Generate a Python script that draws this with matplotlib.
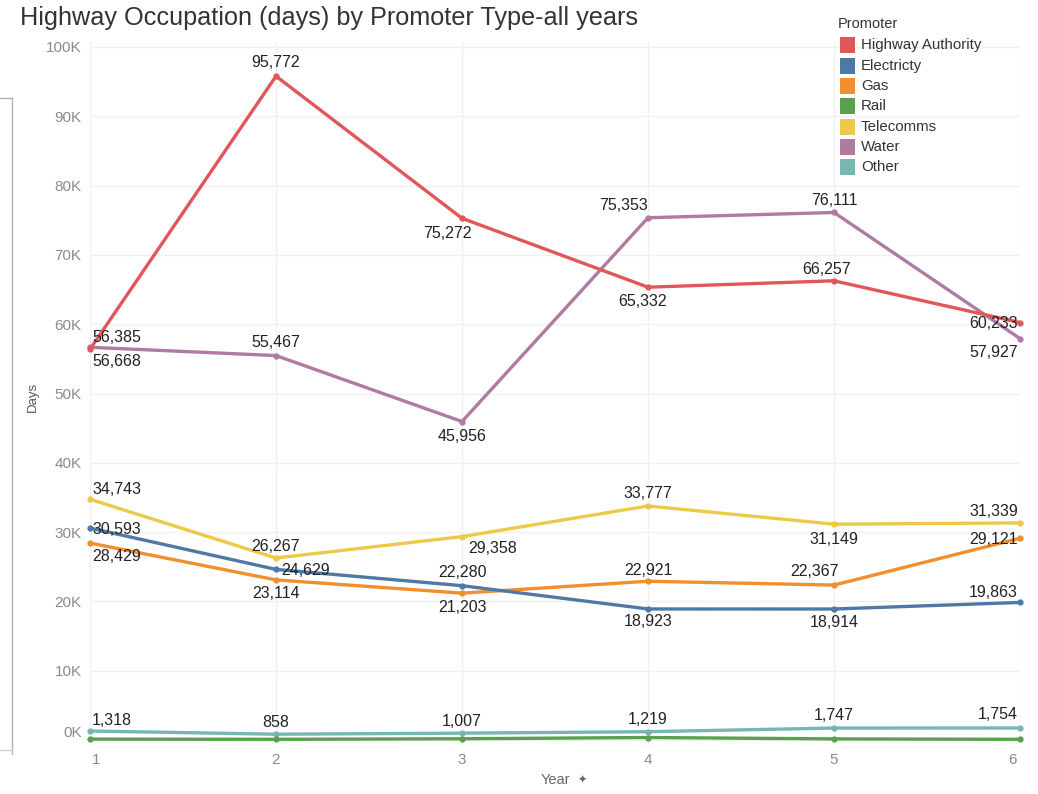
import matplotlib
matplotlib.use("Agg")
import matplotlib.pyplot as plt
from matplotlib.lines import Line2D
from matplotlib.patches import Rectangle
from matplotlib.transforms import ScaledTranslation

plt.rcParams['font.family'] = ['Liberation Sans', 'DejaVu Sans']

years = [1, 2, 3, 4, 5, 6]
promoters = ["Highway Authority", "Electricty", "Gas", "Rail", "Telecomms", "Water", "Other"]

highway_authority = [56385, 95772, 75272, 65332, 66257, 60233]
electricity = [30593, 24629, 22280, 18923, 18914, 19863]
gas = [28429, 23114, 21203, 22921, 22367, 29121]
rail = [150, 120, 200, 380, 180, 120]
telecomms = [34743, 26267, 29358, 33777, 31149, 31339]
water = [56668, 55467, 45956, 75353, 76111, 57927]
other = [1318, 858, 1007, 1219, 1747, 1754]

colors = {
    "Highway Authority": "#E15759",
    "Electricty": "#4E79A7",
    "Gas": "#F28E2B",
    "Rail": "#59A14F",
    "Telecomms": "#EDC948",
    "Water": "#B07AA1",
    "Other": "#76B7B2",
}

series = {
    "Highway Authority": highway_authority,
    "Electricty": electricity,
    "Gas": gas,
    "Rail": rail,
    "Telecomms": telecomms,
    "Water": water,
    "Other": other,
}

# label placement per point: (dx px, dy px, horizontal alignment)
label_pos = {
    "Highway Authority": [(2, 12, "left"), (0, 14, "center"), (-15, -15, "center"),
                          (-5, -14, "center"), (-7, 11, "center"), (-2, -1, "right")],
    "Water": [(2, -14, "left"), (0, 13, "center"), (0, -15, "center"),
              (-25, 12, "center"), (0, 12, "center"), (-2, -14, "right")],
    "Telecomms": [(2, 10, "left"), (0, 12, "center"), (31, -12, "center"),
                  (0, 12, "center"), (0, -15, "center"), (-2, 11, "right")],
    "Electricty": [(2, -1, "left"), (5, -1, "left"), (0, 13, "center"),
                   (0, -13, "center"), (0, -13, "center"), (-2, 10, "right")],
    "Gas": [(2, -13, "left"), (0, -14, "center"), (0, -14, "center"),
            (0, 11, "center"), (-20, 14, "center"), (-2, -1, "right")],
    "Other": [(2, 11, "left"), (0, 12, "center"), (0, 12, "center"),
              (0, 12, "center"), (0, 13, "center"), (-2, 13, "right")],
}

W, H = 1038, 794
fig = plt.figure(figsize=(W / 100, H / 100), dpi=100)
fig.patch.set_facecolor("white")

# plot area in pixels
left_px, right_px = 90, 1020
top_px, bottom_px = 42, 745
ax = fig.add_axes([left_px / W, 1 - bottom_px / H,
                   (right_px - left_px) / W, (bottom_px - top_px) / H])

ymin, ymax = -700, 100700
ax.set_xlim(1, 6)
ax.set_ylim(ymin, ymax)

for s in ax.spines.values():
    s.set_visible(False)

ax.set_yticks([0, 10000, 20000, 30000, 40000, 50000, 60000, 70000, 80000, 90000, 100000])
ax.set_yticklabels(["0K", "10K", "20K", "30K", "40K", "50K", "60K", "70K", "80K", "90K", "100K"])
ax.set_xticks(years)
ax.set_xticklabels([str(y) for y in years])
ax.tick_params(axis="both", length=0, colors="#8a8a8a", labelsize=11)
ax.tick_params(axis="y", pad=6)
ax.tick_params(axis="x", pad=6)
ax.grid(True, color="#f0f0f0", linewidth=1)
ax.set_axisbelow(True)

# pull edge tick labels inward
ylabs = ax.get_yticklabels()
ylabs[0].set_transform(ylabs[0].get_transform() + ScaledTranslation(0, 9 / 100, fig.dpi_scale_trans))
xlabs = ax.get_xticklabels()
xlabs[0].set_transform(xlabs[0].get_transform() + ScaledTranslation(6 / 100, 0, fig.dpi_scale_trans))
xlabs[-1].set_transform(xlabs[-1].get_transform() + ScaledTranslation(-8 / 100, 0, fig.dpi_scale_trans))

draw_order = ["Other", "Rail", "Gas", "Electricty", "Telecomms", "Water", "Highway Authority"]
for name in draw_order:
    vals = series[name]
    ax.plot(years, vals, color=colors[name], linewidth=2.4, marker="o", markersize=3.5,
            solid_capstyle="butt", clip_on=False, zorder=3)

for name, pos in label_pos.items():
    vals = series[name]
    for x, v, (dx, dy, ha) in zip(years, vals, pos):
        ax.annotate(f"{v:,}", (x, v), xytext=(dx, dy), textcoords="offset pixels",
                    ha=ha, va="center", fontsize=11.5, color="#222222", zorder=5,
                    annotation_clip=False)

# title and axis titles
fig.text(20 / W, 1 - 18 / H, "Highway Occupation (days) by Promoter Type-all years",
         ha="left", va="center", fontsize=18.2, color="#333333")
fig.text(33 / W, 1 - 397 / H, "Days", rotation=90, ha="center", va="center",
         fontsize=9.5, color="#555555")
fig.text(555 / W, 1 - 780 / H, "Year", ha="center", va="center", fontsize=10.5, color="#666666")
fig.text(582 / W, 1 - 780 / H, "\u2726", ha="center", va="center", fontsize=8,
         color="#666666", family="DejaVu Sans")

# legend
fig.text(838 / W, 1 - 24 / H, "Promoter", ha="left", va="center", fontsize=10.5, color="#333333")
row_y = [45, 66, 86, 106, 127, 147, 167]
for name, yy in zip(promoters, row_y):
    fig.add_artist(Rectangle((840 / W, 1 - (yy + 7.5) / H), 15 / W, 15 / H,
                             transform=fig.transFigure, facecolor=colors[name],
                             edgecolor="none"))
    fig.text(861 / W, 1 - yy / H, name, ha="left", va="center", fontsize=10.8, color="#333333")

# neighbouring panel edge at left
fig.add_artist(Line2D([11.5 / W, 11.5 / W], [1 - 98 / H, 1 - 754 / H],
                      transform=fig.transFigure, color="#b0b0b0", linewidth=1))
fig.add_artist(Line2D([0, 11.5 / W], [1 - 98 / H, 1 - 98 / H],
                      transform=fig.transFigure, color="#b0b0b0", linewidth=1))
fig.add_artist(Line2D([0, 11.5 / W], [1 - 750 / H, 1 - 750 / H],
                      transform=fig.transFigure, color="#d0d0d0", linewidth=1))

fig.savefig("out.png", dpi=100)
